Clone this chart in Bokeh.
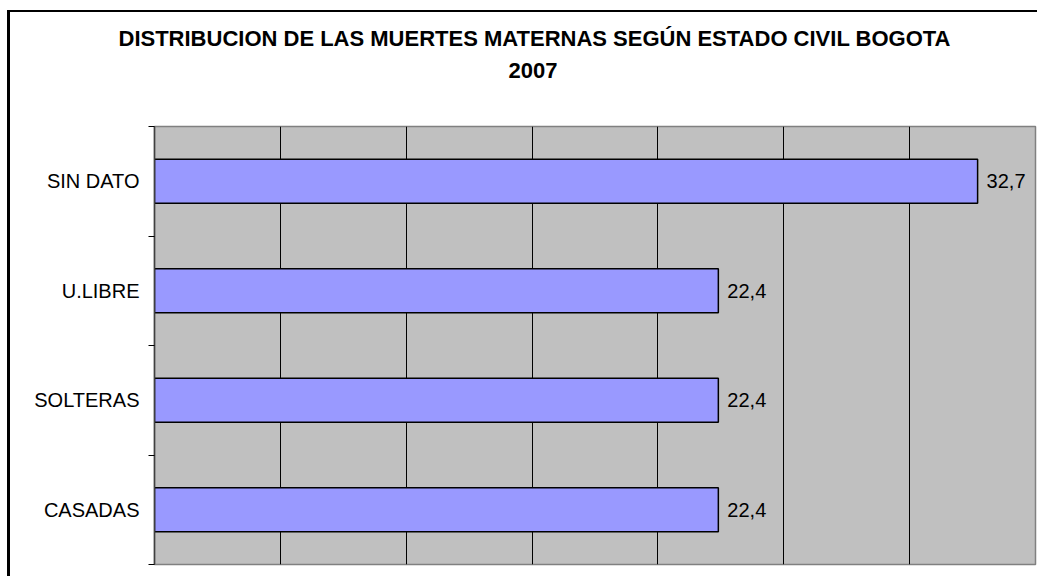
from bokeh.plotting import figure
from bokeh.models import Range1d, FixedTicker, SingleIntervalTicker, ColumnDataSource, Title
from bokeh.embed import file_html
from bokeh.resources import INLINE
from bokeh.core.properties import value

title_line1 = "DISTRIBUCION DE LAS MUERTES MATERNAS SEGÚN ESTADO CIVIL BOGOTA"
title_line2 = "2007"
categories = ["SIN DATO", "U.LIBRE", "SOLTERAS", "CASADAS"]
values = [32.7, 22.4, 22.4, 22.4]
x_max = 35
grid_step = 5

n = len(categories)
pos = [i + 0.5 for i in range(n)]
labels = [f"{v:.1f}".replace(".", ",") for v in values]
src = ColumnDataSource(dict(y=pos, v=values, lab=labels))

FONT = "Liberation Sans"

p = figure(width=1030, height=566, output_backend="svg", toolbar_location=None, title=None,
           x_range=Range1d(0, x_max), y_range=Range1d(n, 0),
           min_border_left=144, min_border_right=5, min_border_top=114, min_border_bottom=14,
           background_fill_color="#C0C0C0", border_fill_color="white",
           outline_line_color="#808080", outline_line_width=1.5,
           styles={"margin-left": "7px", "margin-top": "10px",
                   "border-left": "3px solid black", "border-top": "2px solid black"})

t2 = Title(text=title_line2, align="left", offset=354, standoff=97,
           text_font=FONT, text_font_size="22px", text_font_style="bold", text_color="black")
t1 = Title(text=title_line1, align="left", offset=-36, standoff=-76,
           text_font=FONT, text_font_size="22px", text_font_style="bold", text_color="black")
p.add_layout(t2, "above")
p.add_layout(t1, "above")

p.hbar(y="y", left=0, right="v", height=0.4, fill_color="#9999FF",
       line_color="black", line_width=1.5, source=src)
p.text(x="v", y="y", text="lab", x_offset=9, text_baseline="middle",
       text_font=value(FONT), text_font_size="20px", text_color="black", source=src)

p.xaxis.visible = False
p.xgrid.ticker = SingleIntervalTicker(interval=grid_step)
p.xgrid.grid_line_color = "black"
p.xgrid.grid_line_width = 1
p.ygrid.visible = False

ax = p.yaxis[0]
ax.ticker = FixedTicker(ticks=pos, minor_ticks=list(range(n + 1)))
ax.major_label_overrides = {pos[i]: categories[i] for i in range(n)}
ax.major_tick_out = 0
ax.major_tick_in = 0
ax.minor_tick_out = 6
ax.minor_tick_in = 0
ax.minor_tick_line_color = "black"
ax.minor_tick_line_width = 1
ax.axis_line_color = "#404040"
ax.axis_line_width = 1.5
ax.major_label_standoff = 9
ax.major_label_text_font = FONT
ax.major_label_text_font_size = "20px"
ax.major_label_text_color = "black"

open("out.html", "w").write(file_html(p, INLINE))
